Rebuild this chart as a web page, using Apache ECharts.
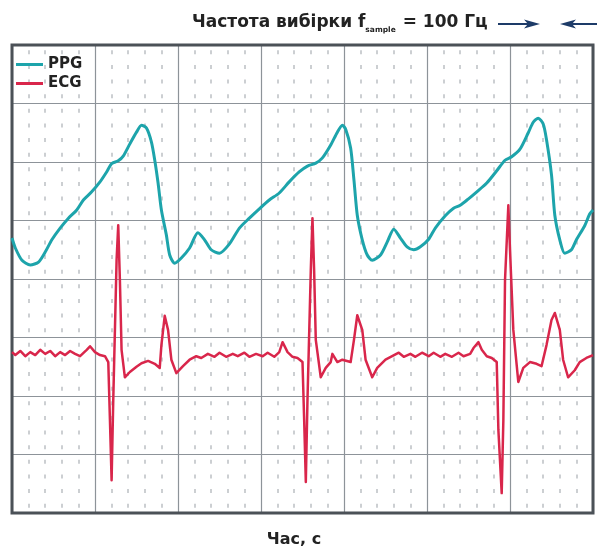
<!DOCTYPE html>
<html><head><meta charset="utf-8">
<script src="https://cdn.jsdelivr.net/npm/echarts@6/dist/echarts.min.js"></script>
<style>html,body{margin:0;padding:0;background:#fff}#c{width:597px;height:550px}</style>
</head><body><div id="c"></div>
<script>
var seriesNames = ['PPG', 'ECG'];
var titleMain = 'Частота вибірки f';
var titleSub = 'sample';
var titleTail = ' = 100 Гц';
var xAxisName = 'Час, с';

var ppgTime = [0.00,0.02,0.06,0.11,0.16,0.20,0.24,0.29,0.34,0.39,0.43,0.48,0.53,0.57,0.60,0.64,0.67,0.71,0.75,0.78,0.81,0.84,0.86,0.88,0.90,0.93,0.95,0.98,1.02,1.07,1.12,1.16,1.20,1.25,1.31,1.37,1.43,1.49,1.55,1.61,1.67,1.73,1.78,1.83,1.87,1.92,1.96,1.99,2.01,2.04,2.06,2.08,2.11,2.14,2.17,2.22,2.26,2.30,2.34,2.38,2.42,2.46,2.51,2.55,2.61,2.66,2.70,2.75,2.80,2.86,2.92,2.97,3.01,3.06,3.11,3.14,3.17,3.20,3.22,3.25,3.27,3.30,3.33,3.37,3.40,3.45,3.48,3.50];
var ppgValue = [4.70,4.53,4.32,4.24,4.29,4.46,4.67,4.87,5.04,5.18,5.35,5.49,5.66,5.83,5.97,6.02,6.10,6.31,6.51,6.63,6.58,6.34,6.03,5.64,5.18,4.75,4.41,4.27,4.36,4.53,4.79,4.67,4.50,4.44,4.60,4.87,5.04,5.20,5.35,5.47,5.66,5.83,5.93,5.98,6.07,6.29,6.51,6.63,6.56,6.24,5.69,5.09,4.67,4.41,4.32,4.41,4.63,4.85,4.70,4.55,4.50,4.55,4.68,4.87,5.08,5.21,5.26,5.37,5.49,5.64,5.85,6.03,6.09,6.22,6.50,6.68,6.75,6.65,6.38,5.78,5.09,4.67,4.44,4.50,4.67,4.91,5.11,5.18];

var ecgTime = [0.00,0.02,0.05,0.08,0.11,0.14,0.17,0.20,0.23,0.26,0.29,0.32,0.35,0.38,0.41,0.45,0.47,0.50,0.53,0.56,0.58,0.59,0.60,0.61,0.63,0.64,0.65,0.66,0.68,0.71,0.75,0.78,0.82,0.86,0.89,0.90,0.92,0.94,0.96,0.99,1.03,1.07,1.11,1.14,1.18,1.22,1.25,1.29,1.33,1.36,1.40,1.43,1.47,1.51,1.54,1.58,1.61,1.63,1.66,1.69,1.72,1.75,1.76,1.77,1.78,1.80,1.81,1.82,1.83,1.86,1.89,1.92,1.93,1.96,1.99,2.04,2.06,2.08,2.11,2.13,2.17,2.20,2.25,2.29,2.33,2.36,2.40,2.43,2.47,2.51,2.54,2.58,2.61,2.65,2.69,2.72,2.76,2.78,2.81,2.83,2.86,2.89,2.92,2.93,2.95,2.96,2.97,2.99,3.00,3.02,3.05,3.08,3.12,3.16,3.19,3.22,3.25,3.27,3.30,3.32,3.35,3.39,3.42,3.46,3.50];
var ecgValue = [2.75,2.70,2.77,2.68,2.75,2.70,2.79,2.72,2.77,2.68,2.75,2.70,2.77,2.72,2.68,2.79,2.85,2.75,2.70,2.68,2.58,1.59,0.56,1.93,4.32,4.92,3.98,2.79,2.32,2.41,2.50,2.56,2.60,2.55,2.48,2.87,3.37,3.13,2.62,2.39,2.51,2.62,2.68,2.65,2.72,2.67,2.74,2.67,2.72,2.68,2.74,2.67,2.72,2.68,2.74,2.67,2.75,2.92,2.75,2.67,2.65,2.58,1.59,0.53,1.93,4.15,5.04,4.15,2.96,2.32,2.48,2.58,2.72,2.58,2.62,2.58,2.96,3.38,3.13,2.62,2.32,2.48,2.62,2.68,2.74,2.67,2.72,2.67,2.74,2.68,2.74,2.67,2.72,2.67,2.74,2.68,2.72,2.82,2.92,2.79,2.68,2.65,2.58,1.42,0.34,1.59,3.98,5.26,4.50,3.13,2.24,2.48,2.58,2.55,2.51,2.87,3.30,3.42,3.13,2.62,2.32,2.44,2.58,2.65,2.70];

function zip(a, b) { return a.map(function (v, i) { return [v, b[i]]; }); }

var chart = echarts.init(document.getElementById('c'), null, {renderer: 'canvas'});
var navy = '#1d3b68';
var font = 'DejaVu Sans';
chart.setOption({
  animation: false,
  backgroundColor: '#ffffff',
  grid: {left: 12, top: 45, right: 4, bottom: 37, show: true, borderColor: '#4b5157', borderWidth: 3, backgroundColor: 'transparent', z: 3},
  legend: {
    orient: 'vertical', left: 11, top: 52, itemGap: 4, itemWidth: 27, itemHeight: 3,
    icon: 'rect',
    textStyle: {fontFamily: font, fontWeight: 'bold', fontSize: 15, color: '#222'},
    data: seriesNames
  },
  xAxis: {
    type: 'value', min: 0, max: 3.5, interval: 0.5,
    axisLine: {show: false}, axisTick: {show: false}, axisLabel: {show: false},
    splitLine: {show: true, lineStyle: {color: '#8d9399', width: 1.2}},
    minorTick: {show: false, splitNumber: 5},
    minorSplitLine: {show: true, lineStyle: {color: '#bcc0c4', width: 1.5, type: [4, 10.625], dashOffset: 9.3}}
  },
  yAxis: {
    type: 'value', min: 0, max: 8, interval: 1,
    axisLine: {show: false}, axisTick: {show: false}, axisLabel: {show: false},
    splitLine: {show: true, lineStyle: {color: '#8d9399', width: 1.2}}
  },
  graphic: [
    {type: 'text', x: 192, y: 12, style: {
      rich: {
        a: {fontFamily: font, fontWeight: 'bold', fontSize: 17, fill: '#222', lineHeight: 22},
        s: {fontFamily: font, fontWeight: 'bold', fontSize: 7.5, fill: '#222', lineHeight: 22, verticalAlign: 'bottom', padding: [10, 1, 0, 0]}
      },
      text: '{a|' + titleMain + '}{s|' + titleSub + '}{a|' + titleTail + '}'
    }},
    {type: 'text', x: 294, y: 540, style: {text: xAxisName, fontFamily: font, fontWeight: 'bold', fontSize: 16, fill: '#222', align: 'center', verticalAlign: 'middle'}},
    {type: 'line', shape: {x1: 498, y1: 24, x2: 528, y2: 24}, style: {stroke: navy, lineWidth: 2}},
    {type: 'polygon', shape: {points: [[524, 19.5], [540, 24], [524, 28.5], [528, 24]]}, style: {fill: navy}},
    {type: 'line', shape: {x1: 572, y1: 24, x2: 597, y2: 24}, style: {stroke: navy, lineWidth: 2}},
    {type: 'polygon', shape: {points: [[576, 19.5], [560, 24], [576, 28.5], [572, 24]]}, style: {fill: navy}}
  ],
  series: [
    {name: seriesNames[0], type: 'line', data: zip(ppgTime, ppgValue), showSymbol: false, smooth: 0.25,
     lineStyle: {color: '#1da4ab', width: 3}, itemStyle: {color: '#1da4ab'}, z: 5},
    {name: seriesNames[1], type: 'line', data: zip(ecgTime, ecgValue), showSymbol: false,
     lineStyle: {color: '#d9264b', width: 2.5, join: 'round'}, itemStyle: {color: '#d9264b'}, z: 4}
  ]
});
</script></body></html>
